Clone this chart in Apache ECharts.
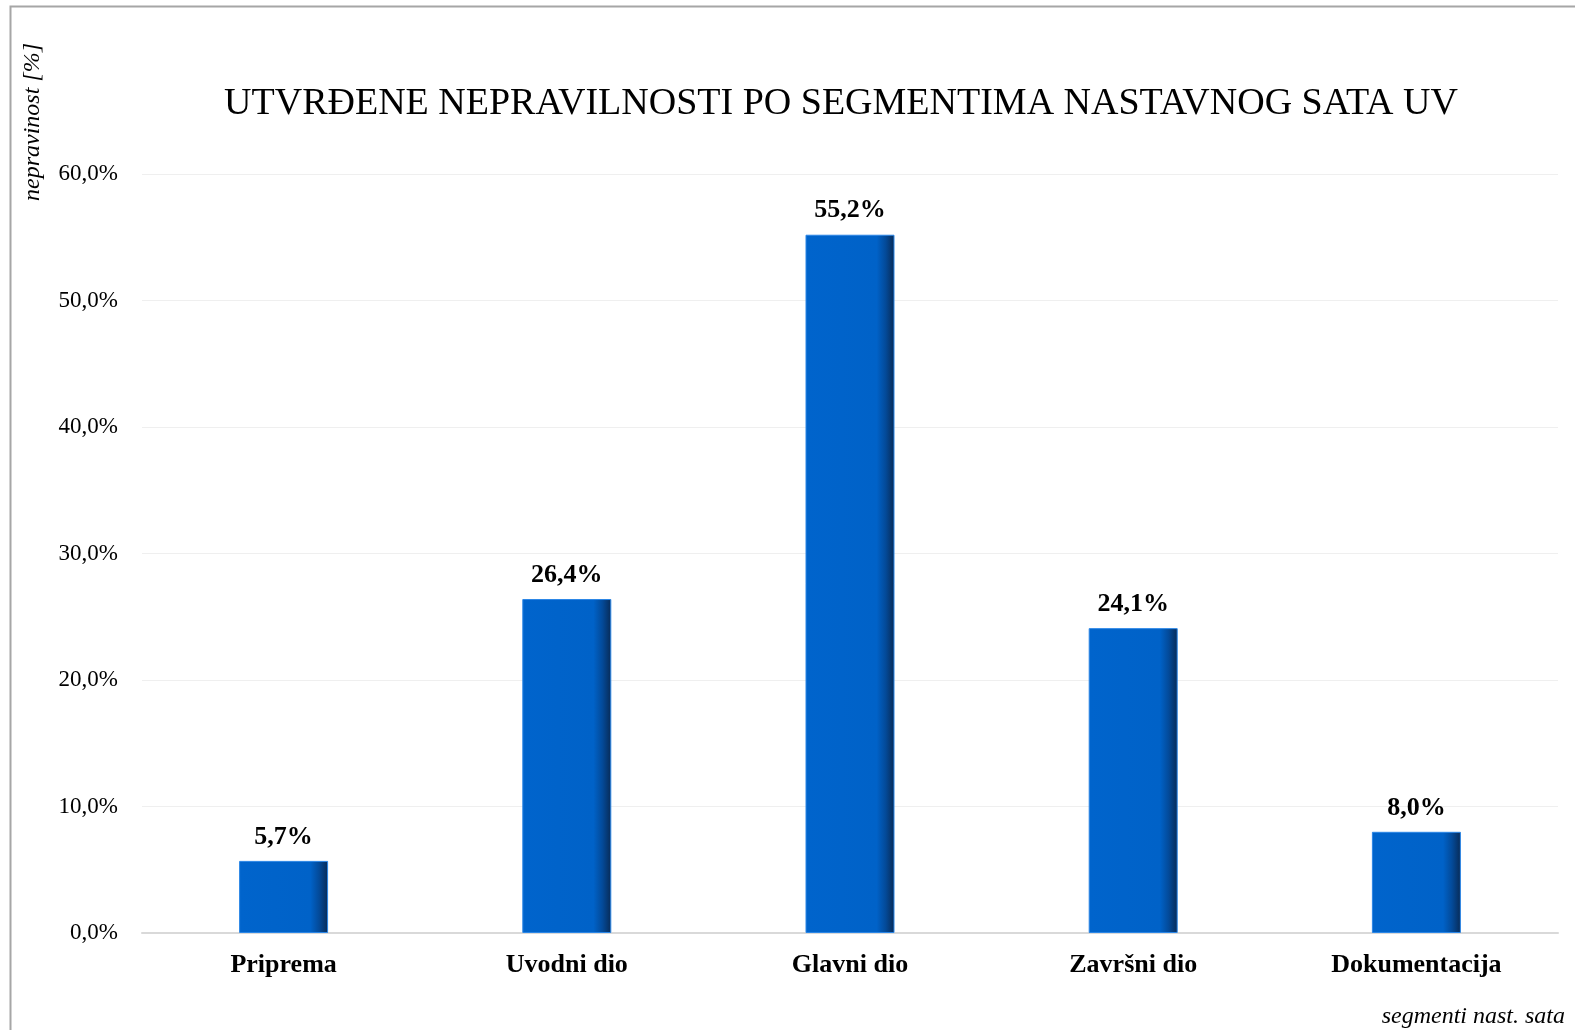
<!DOCTYPE html>
<html>
<head>
<meta charset="utf-8">
<script src="https://cdn.jsdelivr.net/npm/echarts@6/dist/echarts.min.js"></script>
<style>
html,body{margin:0;padding:0;background:#fff;}
#chart{width:1575px;height:1030px;}
</style>
</head>
<body>
<div id="chart"></div>
<script>
const categories = ['Priprema', 'Uvodni dio', 'Glavni dio', 'Završni dio', 'Dokumentacija'];
const values = [5.7, 26.4, 55.2, 24.1, 8.0];
const yTicks = { min: 0, max: 60, interval: 10 };
const titleText = 'UTVRĐENE NEPRAVILNOSTI PO SEGMENTIMA NASTAVNOG SATA UV';
const yAxisTitle = 'nepravinost [%]';
const xAxisTitle = 'segmenti nast. sata';

const fmt = v => v.toFixed(1).replace('.', ',') + '%';
const serif = '"Liberation Serif", "Times New Roman", serif';

const chart = echarts.init(document.getElementById('chart'));
chart.setOption({
  backgroundColor: '#ffffff',
  animation: false,
  title: {
    text: titleText,
    left: 836,
    textAlign: 'center',
    top: 80,
    textStyle: { fontFamily: serif, fontSize: 38, fontWeight: 'normal', color: '#000' }
  },
  grid: { left: 142, right: 17, top: 174, bottom: 97, containLabel: false },
  xAxis: {
    type: 'category',
    data: categories,
    axisTick: { show: false },
    axisLine: { lineStyle: { color: '#d9d9d9', width: 2 } },
    axisLabel: { fontFamily: serif, fontSize: 26, fontWeight: 'bold', color: '#000', margin: 19 }
  },
  yAxis: {
    type: 'value',
    min: yTicks.min, max: yTicks.max, interval: yTicks.interval,
    axisLine: { show: false },
    axisTick: { show: false },
    splitLine: { lineStyle: { color: '#efefef', width: 1 } },
    axisLabel: { fontFamily: serif, fontSize: 23, color: '#000', margin: 24, formatter: fmt }
  },
  graphic: [
    { type: 'rect', left: 8, top: 4, shape: { width: 1600, height: 1100 }, style: { fill: 'none', stroke: '#a6a6a6', lineWidth: 2 }, silent: true, z: 100 },
    { type: 'text', x: 33, y: 122, rotation: Math.PI / 2, style: { text: yAxisTitle, font: 'italic 24px ' + serif, fill: '#000', textAlign: 'center', textVerticalAlign: 'middle' } },
    { type: 'text', right: 10, top: 1005, style: { text: xAxisTitle, font: 'italic 24px ' + serif, fill: '#000' } }
  ],
  series: [{
    type: 'bar',
    data: values,
    barWidth: 89,
    itemStyle: {
      color: new echarts.graphic.LinearGradient(0, 0, 1, 0, [
        { offset: 0, color: '#0064cc' },
        { offset: 0.8, color: '#0062c8' },
        { offset: 0.9, color: '#034a99' },
        { offset: 1, color: '#082a55' }
      ]),
      borderColor: '#2b86e6',
      borderWidth: 1
    },
    label: {
      show: true,
      position: 'top',
      distance: 11,
      formatter: p => fmt(p.value),
      fontFamily: serif, fontSize: 26, fontWeight: 'bold', color: '#000'
    }
  }]
});
</script>
</body>
</html>
